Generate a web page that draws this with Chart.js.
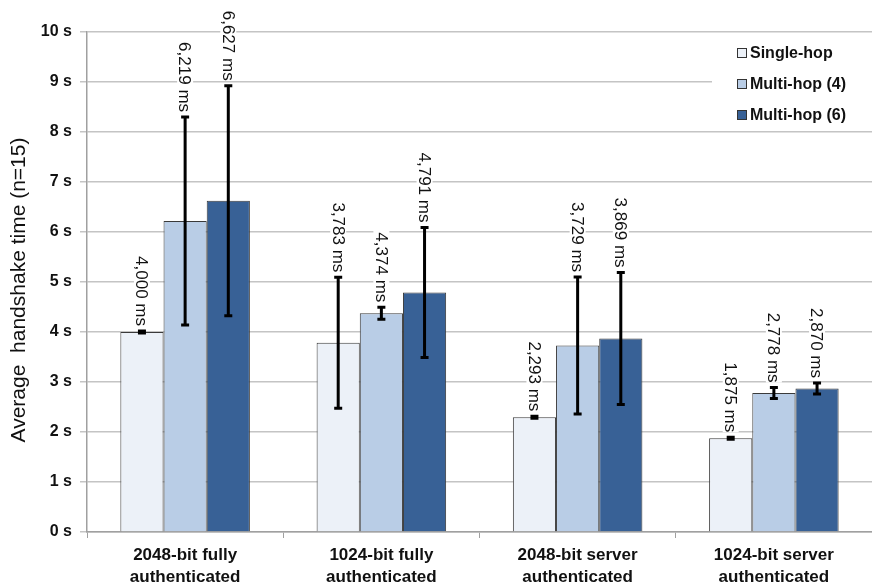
<!DOCTYPE html>
<html>
<head>
<meta charset="utf-8">
<script src="https://cdn.jsdelivr.net/npm/chart.js@4.4.1/dist/chart.umd.min.js"></script>
<style>
  html, body { margin: 0; padding: 0; background: #ffffff; }
  #wrap { width: 872px; height: 587px; position: relative; }
</style>
</head>
<body>
<div id="wrap"><canvas id="c" width="872" height="587"></canvas></div>
<script>
// ---- data (seconds) ----
const categories = [
  ["2048-bit fully", "authenticated"],
  ["1024-bit fully", "authenticated"],
  ["2048-bit server", "authenticated"],
  ["1024-bit server", "authenticated"]
];
const seriesNames = ["Single-hop", "Multi-hop (4)", "Multi-hop (6)"];
const singleHop = [4.000, 3.783, 2.293, 1.875];
const multiHop4 = [6.219, 4.374, 3.729, 2.778];
const multiHop6 = [6.627, 4.791, 3.869, 2.870];
const singleHopErr = [0.02, 1.31, 0.02, 0.02];
const multiHop4Err = [2.08, 0.12, 1.37, 0.11];
const multiHop6Err = [2.30, 1.30, 1.32, 0.11];
const yTicks = [0, 1, 2, 3, 4, 5, 6, 7, 8, 9, 10];
const yTitle = "Average  handshake time (n=15)";

const colors = ["#ecf1f8", "#b9cde6", "#386196"];
const errors = [singleHopErr, multiHop4Err, multiHop6Err];

const fmt = v => Math.round(v * 1000).toLocaleString('en-US') + ' ms';

const errorBarPlugin = {
  id: 'errbars',
  afterDatasetsDraw(chart) {
    const ctx = chart.ctx;
    const y = chart.scales.y;
    chart.data.datasets.forEach((ds, di) => {
      const meta = chart.getDatasetMeta(di);
      meta.data.forEach((bar, i) => {
        const v = ds.data[i];
        const e = errors[di][i];
        const x = bar.x;
        const yt = y.getPixelForValue(v + e);
        const yb = y.getPixelForValue(v - e);
        ctx.save();
        ctx.strokeStyle = '#000';
        ctx.lineWidth = 3;
        ctx.beginPath();
        ctx.moveTo(x, yt); ctx.lineTo(x, yb);
        ctx.moveTo(x - 4, yt); ctx.lineTo(x + 4, yt);
        ctx.moveTo(x - 4, yb); ctx.lineTo(x + 4, yb);
        ctx.stroke();
        // label
        const txt = fmt(v);
        ctx.font = '17px "Liberation Sans", Arial, sans-serif';
        const w = ctx.measureText(txt).width;
        ctx.translate(x, yt - 5);
        ctx.rotate(Math.PI / 2);
        ctx.fillStyle = '#ffffff';
        ctx.fillRect(-w - 3, -8, w + 3, 16);
        ctx.fillStyle = '#111';
        ctx.textAlign = 'right';
        ctx.textBaseline = 'middle';
        ctx.fillText(txt, 0, 1);
        ctx.restore();
      });
    });
  }
};

const extrasPlugin = {
  id: 'extras',
  afterDraw(chart) {
    const ctx = chart.ctx;
    // y title
    ctx.save();
    ctx.font = '21px "Liberation Sans", Arial, sans-serif';
    ctx.fillStyle = '#111';
    ctx.textAlign = 'center';
    ctx.textBaseline = 'middle';
    ctx.translate(19, 290);
    ctx.rotate(-Math.PI / 2);
    ctx.fillText(yTitle, 0, 0);
    ctx.restore();
    // legend
    ctx.save();
    ctx.fillStyle = '#ffffff';
    ctx.fillRect(712, 36, 160, 90);
    ctx.font = 'bold 16px "Liberation Sans", Arial, sans-serif';
    ctx.textBaseline = 'middle';
    ctx.textAlign = 'left';
    const rows = [53, 84, 115];
    seriesNames.forEach((n, i) => {
      ctx.fillStyle = colors[i];
      ctx.fillRect(737.5, rows[i] - 4.5, 9, 9);
      ctx.strokeStyle = '#333';
      ctx.lineWidth = 1;
      ctx.strokeRect(737.5, rows[i] - 4.5, 9, 9);
      ctx.fillStyle = '#111';
      ctx.fillText(n, 750, rows[i] + 1);
    });
    ctx.restore();
  }
};

new Chart(document.getElementById('c'), {
  type: 'bar',
  data: {
    labels: categories,
    datasets: [
      { label: seriesNames[0], data: singleHop, backgroundColor: colors[0] },
      { label: seriesNames[1], data: multiHop4, backgroundColor: colors[1] },
      { label: seriesNames[2], data: multiHop6, backgroundColor: colors[2] }
    ].map(d => Object.assign(d, { borderColor: '#3a3a3a', borderWidth: 1, categoryPercentage: 0.66, barPercentage: 1.0 }))
  },
  options: {
    responsive: false,
    animation: false,
    layout: { padding: { top: 32, right: 0, left: 0, bottom: 0 } },
    plugins: { legend: { display: false }, tooltip: { enabled: false } },
    scales: {
      x: {
        afterFit(s) { s.height = 55; },
        grid: { display: true, drawOnChartArea: false, drawTicks: true, tickLength: 6, color: '#a0a0a0', offset: true },
        border: { display: true, color: '#a0a0a0', width: 1.5 },
        ticks: {
          color: '#111',
          padding: 6,
          maxRotation: 0,
          font: { family: '"Liberation Sans", Arial, sans-serif', size: 17, weight: 'bold', lineHeight: 1.3 }
        }
      },
      y: {
        min: 0, max: 10,
        afterFit(s) { s.width = 87; },
        afterBuildTicks(s) { s.ticks = yTicks.map(v => ({ value: v })); },
        grid: { color: '#c4c4c4', lineWidth: 1.5, tickLength: 7, drawTicks: true },
        border: { display: true, color: '#a0a0a0', width: 1.5 },
        ticks: {
          color: '#111',
          padding: 8,
          callback: v => v + ' s',
          font: { family: '"Liberation Sans", Arial, sans-serif', size: 16, weight: 'bold' }
        }
      }
    }
  },
  plugins: [errorBarPlugin, extrasPlugin]
});
</script>
</body>
</html>
